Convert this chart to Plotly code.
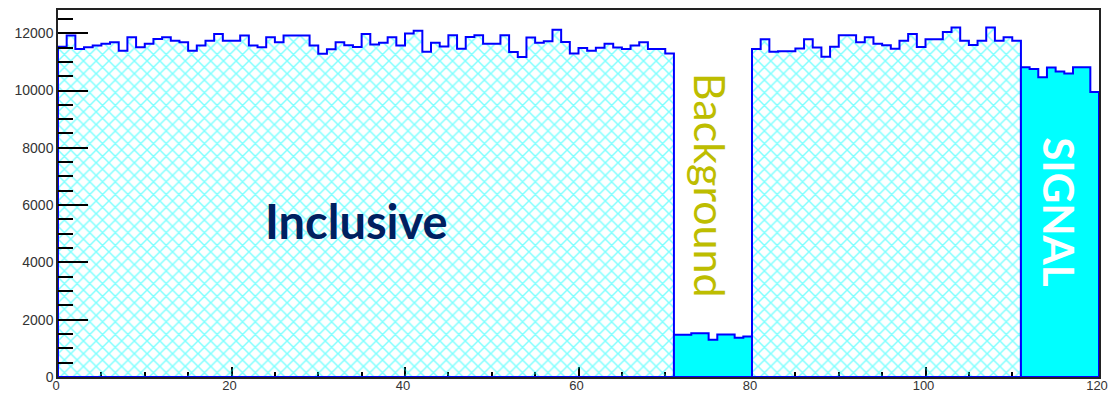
import plotly.graph_objects as go

# Counts per unit-width bin, left to right along the axis.
inclusive_low = [
    11530, 11920, 11450, 11510, 11570, 11630, 11680, 11390, 11860, 11510,
    11630, 11800, 11860, 11740, 11680, 11390, 11570, 11740, 11970, 11740,
    11740, 11920, 11570, 11510, 11860, 11680, 11920, 11920, 11920, 11570,
    11280, 11440, 11680, 11580, 11520, 11970, 11610, 11670, 11860, 11570,
    11990, 12090, 11350, 11670, 11540, 11930, 11460, 11870, 11930, 11630,
    11630, 11930, 11340, 11170, 11850, 11670, 11720, 12120, 11690, 11290,
    11480, 11390, 11490, 11630, 11500, 11450, 11570, 11680, 11450, 11450,
    11290,
]
background = [1475, 1475, 1530, 1530, 1300, 1485, 1485, 1370, 1415]
inclusive_high = [
    11450, 11790, 11350, 11370, 11370, 11470, 11790, 11500, 11180, 11530,
    11930, 11930, 11680, 11860, 11630, 11580, 11460, 11740, 11970, 11520,
    11790, 11790, 12040, 12200, 11740, 11590, 11740, 12200, 11740, 11860,
    11740,
]
signal = [10810, 10750, 10460, 10800, 10660, 10590, 10810, 10810, 9950]

x_tick_values = [0, 20, 40, 60, 80, 100, 120]
y_tick_values = [0, 2000, 4000, 6000, 8000, 10000, 12000]

BIN_WIDTH = 1.0
X_RANGE = [0, 120]
Y_MAX = 1.05 * max(inclusive_low + background + inclusive_high + signal)

OUTLINE = "#0000ff"
CYAN = "#00ffff"


def step_outline(x_start, counts):
    """Closed histogram outline (bars merged into one envelope)."""
    xs, ys = [x_start], [0]
    for i, c in enumerate(counts):
        lo = x_start + i * BIN_WIDTH
        xs += [lo, lo + BIN_WIDTH]
        ys += [c, c]
    x_end = x_start + len(counts) * BIN_WIDTH
    xs += [x_end, x_start]
    ys += [0, 0]
    return xs, ys


starts = []
pos = 0.0
for seg in (inclusive_low, background, inclusive_high, signal):
    starts.append(pos)
    pos += len(seg) * BIN_WIDTH

hatch = dict(shape="x", fgcolor=CYAN, bgcolor="rgba(0,0,0,0)", size=9, solidity=0.3)

fig = go.Figure()
for seg, x0, hatched in (
    (inclusive_low, starts[0], True),
    (background, starts[1], False),
    (inclusive_high, starts[2], True),
    (signal, starts[3], False),
):
    xs, ys = step_outline(x0, seg)
    kw = dict(
        x=xs, y=ys, mode="lines", fill="toself",
        line=dict(color=OUTLINE, width=2),
        hoverinfo="skip", showlegend=False,
    )
    if hatched:
        kw["fillcolor"] = "rgba(0,0,0,0)"
        kw["fillpattern"] = hatch
    else:
        kw["fillcolor"] = CYAN
    fig.add_trace(go.Scatter(**kw))

y_tick_font = dict(family="Liberation Sans, Arial, sans-serif", size=14, color="#333333")
x_tick_font = dict(family="Liberation Sans, Arial, sans-serif", size=13, color="#333333")

fig.update_xaxes(
    range=X_RANGE, tickvals=x_tick_values, ticks="inside", ticklen=10,
    tickwidth=1.5, tickcolor="#000000",
    minor=dict(dtick=5, ticks="inside", ticklen=5, tickwidth=1.5, tickcolor="#000000"),
    showline=True, linecolor="#222222", linewidth=1.5, mirror=True,
    showgrid=False, zeroline=False, tickfont=x_tick_font, layer="below traces",
    automargin=False, ticklabeloverflow="allow", ticklabelstandoff=-4,
    ticklabelshift=-2,
)
fig.update_yaxes(
    range=[0, Y_MAX], tickvals=y_tick_values, tickformat="d", ticks="inside", ticklen=30,
    tickwidth=1.5, tickcolor="#000000",
    minor=dict(dtick=500, ticks="inside", ticklen=15, tickwidth=1.5, tickcolor="#000000"),
    showline=True, linecolor="#222222", linewidth=1.5, mirror=True,
    showgrid=False, zeroline=False, tickfont=y_tick_font, layer="above traces",
    automargin=False, ticklabeloverflow="allow",
)

fig.add_annotation(
    x=34.4, y=5450, text="Inclusive", showarrow=False,
    font=dict(family="Lato", size=47, color="#002060", weight="bold"),
)
fig.add_annotation(
    x=75.3, y=6700, text="Background", showarrow=False, textangle=90,
    font=dict(family="Lato", size=43, color="#bdbd00"),
)
fig.add_annotation(
    x=115.4, y=5750, text="SIGNAL", showarrow=False, textangle=90,
    font=dict(family="Lato", size=42, color="#ffffff", weight="bold"),
)

fig.update_layout(
    width=1109, height=394,
    margin=dict(l=58, r=10, t=10, b=17, autoexpand=False),
    paper_bgcolor="#ffffff", plot_bgcolor="#ffffff",
    hovermode=False,
)

fig.write_html("out.html")
